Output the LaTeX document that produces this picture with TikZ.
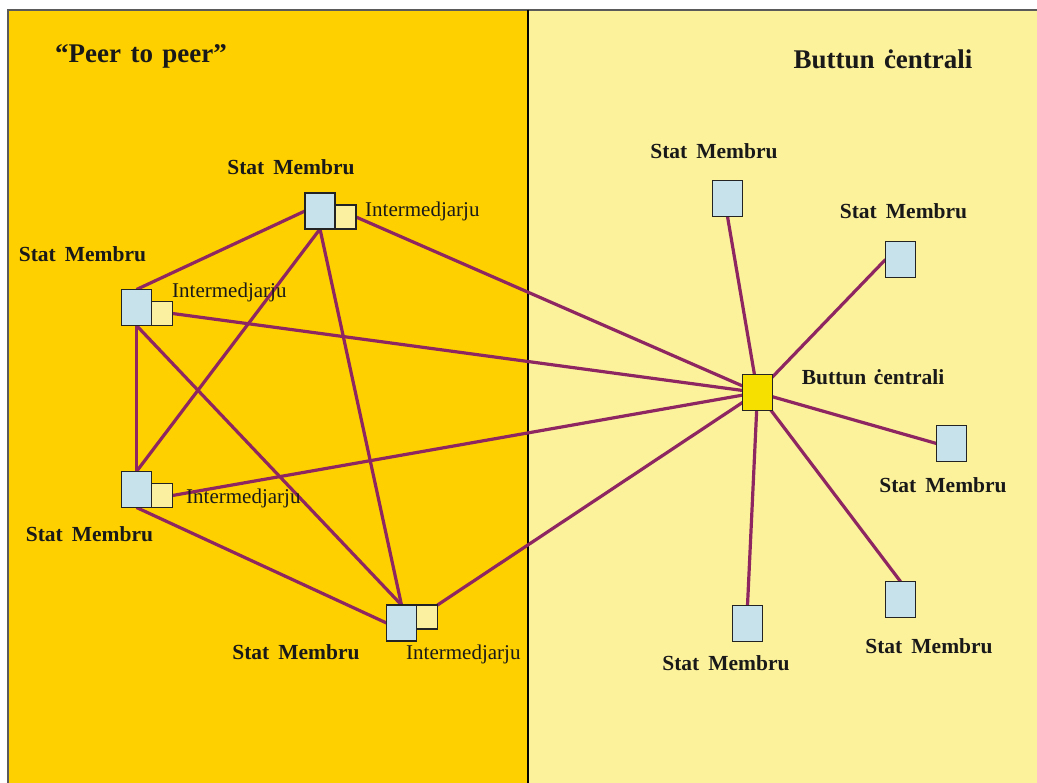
\documentclass[tikz,border=0pt]{standalone}
\usepackage{fontspec}
\setmainfont{Liberation Serif}
\definecolor{panelorange}{RGB}{255,208,0}
\definecolor{panelpale}{RGB}{253,242,156}
\definecolor{memberblue}{RGB}{200,226,235}
\definecolor{interyellow}{RGB}{251,240,160}
\definecolor{hubyellow}{RGB}{245,224,0}
\definecolor{boxline}{RGB}{35,35,35}
\definecolor{linkpurple}{RGB}{142,38,98}
\definecolor{ink}{RGB}{25,25,25}
\definecolor{framegray}{RGB}{90,90,90}
\pgfdeclarelayer{panel}
\pgfdeclarelayer{edges}
\pgfsetlayers{panel,edges,main}
\newcommand{\statm}{Stat\hspace{0.42em}Membru}
\begin{document}
\begin{tikzpicture}[x=1pt,y=-1pt,
  member/.style={draw=boxline,line width=1.3pt,fill=memberblue,minimum width=30pt,minimum height=36pt,inner sep=0pt,outer sep=0pt},
  inter/.style={draw=boxline,line width=1.3pt,fill=interyellow,minimum width=21pt,minimum height=24pt,inner sep=0pt,outer sep=0pt},
  hub/.style={member,fill=hubyellow},
  lbl/.style={font=\fontsize{21.5}{24}\selectfont\bfseries,text=ink,anchor=base,inner sep=0pt},
  ilbl/.style={font=\fontsize{21}{24}\selectfont,text=ink,anchor=base west,inner sep=0pt},
  ttl/.style={font=\fontsize{27}{30}\selectfont\bfseries,text=ink,anchor=base,inner sep=0pt},
  link/.style={draw=linkpurple,line width=3.2pt}]
\useasboundingbox (0,0) rectangle (1037,783);
% panels
\begin{pgfonlayer}{panel}
  \fill[white] (0,0) rectangle (1037,783);
  \fill[panelorange] (9,11) rectangle (528,783);
  \fill[panelpale] (528,11) rectangle (1037,783);
  \draw[framegray,line width=1.4pt] (8,783) -- (8,10) -- (1037,10);
  \draw[black,line width=2pt] (528,10) -- (528,783);
\end{pgfonlayer}
% titles
\node[ttl] (t1) at (141,63) {“Peer\hspace{0.35em}to\hspace{0.35em}peer”};
\node[ttl] (t2) at (883,69) {Buttun\hspace{0.35em}ċentrali};
% peer-to-peer members
\node[member] (A) at (320,211) {};
\node[inter,anchor=south west] (Ay) at (A.south east) {};
\node[member] (B) at (136.5,307.5) {};
\node[inter,anchor=south west] (By) at (B.south east) {};
\node[member] (C) at (136.5,489.5) {};
\node[inter,anchor=south west] (Cy) at (C.south east) {};
\node[member] (D) at (401.5,623) {};
\node[inter,anchor=north west] (Dy) at (D.north east) {};
% hub and its members
\node[hub] (H) at (757.5,392.5) {};
\node[member] (R1) at (727.5,198.5) {};
\node[member] (R2) at (900.5,259.5) {};
\node[member] (R3) at (951.5,443.5) {};
\node[member] (R4) at (900.5,599.5) {};
\node[member] (R5) at (747.5,623.5) {};
% labels
\node[lbl] (lA) at (291,175) {\statm};
\node[lbl] (lB) at (82.5,262) {\statm};
\node[lbl] (lC) at (89.5,542) {\statm};
\node[lbl] (lD) at (296,659) {\statm};
\node[ilbl] (iA) at (365,217) {Intermedjarju};
\node[ilbl] (iB) at (172,298) {Intermedjarju};
\node[ilbl] (iC) at (186,504) {Intermedjarju};
\node[ilbl] (iD) at (406,659) {Intermedjarju};
\node[lbl] (lH) at (873,385) {Buttun\hspace{0.35em}ċentrali};
\node[lbl] (l1) at (714,159) {\statm};
\node[lbl] (l2) at (903.5,219) {\statm};
\node[lbl] (l3) at (943,493) {\statm};
\node[lbl] (l4) at (929,653) {\statm};
\node[lbl] (l5) at (726,670) {\statm};
% connectors
\begin{pgfonlayer}{edges}
  \draw[link] (A.west) -- (B.north);
  \draw[link] (A.south) -- (C.north);
  \draw[link] (A.south) -- (D.north);
  \draw[link] (Ay.east) -- (H.center);
  \draw[link] (By.east) -- (H.center);
  \draw[link] (B.south) -- (C.north);
  \draw[link] (B.south) -- (D.north);
  \draw[link] (Cy.east) -- (H.center);
  \draw[link] (C.south) -- (D.west);
  \draw[link] (Dy.north east) -- (H.center);
  \draw[link] (R1.south) -- (H.center);
  \draw[link] (R2.west) -- (H.center);
  \draw[link] (R3.west) -- (H.center);
  \draw[link] (R4.north) -- (H.center);
  \draw[link] (R5.north) -- (H.center);
\end{pgfonlayer}
\end{tikzpicture}
\end{document}
